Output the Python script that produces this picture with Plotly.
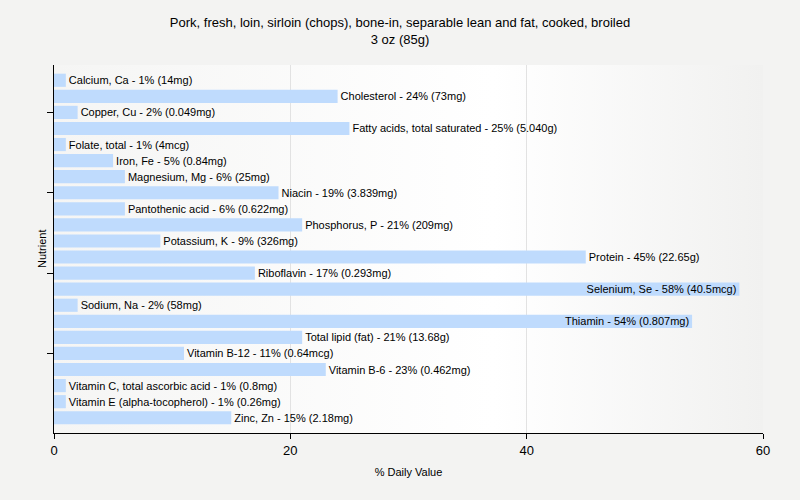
import base64
import plotly.graph_objects as go

nutrients = [
    "Calcium, Ca", "Cholesterol", "Copper, Cu", "Fatty acids, total saturated",
    "Folate, total", "Iron, Fe", "Magnesium, Mg", "Niacin", "Pantothenic acid",
    "Phosphorus, P", "Potassium, K", "Protein", "Riboflavin", "Selenium, Se",
    "Sodium, Na", "Thiamin", "Total lipid (fat)", "Vitamin B-12", "Vitamin B-6",
    "Vitamin C, total ascorbic acid", "Vitamin E (alpha-tocopherol)", "Zinc, Zn",
]
daily_pct = [1, 24, 2, 25, 1, 5, 6, 19, 6, 21, 9, 45, 17, 58, 2, 54, 21, 11, 23, 1, 1, 15]
amounts = [
    "14mg", "73mg", "0.049mg", "5.040g", "4mcg", "0.84mg", "25mg", "3.839mg",
    "0.622mg", "209mg", "326mg", "22.65g", "0.293mg", "40.5mcg", "58mg",
    "0.807mg", "13.68g", "0.64mcg", "0.462mg", "0.8mg", "0.26mg", "2.18mg",
]
inside_labels = ["Selenium, Se", "Thiamin"]
tick_nutrients = ["Copper, Cu", "Niacin", "Riboflavin", "Vitamin B-12"]

labels = [f"{n} - {p}% ({a})" for n, p, a in zip(nutrients, daily_pct, amounts)]
positions = ["inside" if n in inside_labels else "outside" for n in nutrients]

FONT = "Liberation Sans, Arial, sans-serif"

fig = go.Figure(go.Bar(
    x=daily_pct,
    y=nutrients,
    orientation="h",
    width=0.82,
    marker=dict(color="#bfdbfd", line=dict(width=0)),
    text=labels,
    textposition=positions,
    insidetextanchor="end",
    constraintext="none",
    cliponaxis=False,
    textfont=dict(family=FONT, size=11, color="#000000"),
    insidetextfont=dict(family=FONT, size=11, color="#000000"),
    outsidetextfont=dict(family=FONT, size=11, color="#000000"),
    hoverinfo="skip",
))

svg = (
    '<svg xmlns="http://www.w3.org/2000/svg" width="100" height="100" preserveAspectRatio="none">'
    '<defs><linearGradient id="g" x1="0" y1="0" x2="1" y2="0">'
    '<stop offset="0" stop-color="#f5f5f4"/>'
    '<stop offset="0.62" stop-color="#ffffff"/>'
    '<stop offset="1" stop-color="#f1f1f0"/>'
    '</linearGradient></defs>'
    '<rect width="100" height="100" fill="url(#g)"/></svg>'
)
src = "data:image/svg+xml;base64," + base64.b64encode(svg.encode()).decode()

fig.update_layout(
    width=800, height=500,
    margin=dict(l=54, r=37, t=65, b=67, autoexpand=False),
    paper_bgcolor="#f3f3f2",
    plot_bgcolor="rgba(0,0,0,0)",
    font=dict(family=FONT, size=11, color="#000000"),
    title=dict(
        text="Pork, fresh, loin, sirloin (chops), bone-in, separable lean and fat, cooked, broiled<br>3 oz (85g)",
        x=0.5, xanchor="center", y=0.946, yanchor="top",
        font=dict(size=13, family=FONT),
    ),
    showlegend=False,
    images=[dict(
        source=src, xref="paper", yref="paper", x=0, y=1, sizex=1, sizey=1,
        xanchor="left", yanchor="top", sizing="stretch", layer="below",
    )],
    annotations=[dict(
        text="Nutrient", xref="paper", yref="paper", x=-12 / 709, y=0.5,
        xanchor="center", yanchor="middle", textangle=-90, showarrow=False,
        font=dict(size=11, family=FONT, color="#000000"),
    )],
    xaxis=dict(
        range=[0, 60], tickvals=[0, 20, 40, 60],
        showgrid=True, gridcolor="#e2e2e2", gridwidth=1,
        showline=True, linecolor="#000000", linewidth=1,
        ticks="outside", ticklen=5, tickcolor="#000000",
        tickfont=dict(size=13),
        zeroline=False, automargin=False,
        title=dict(text="% Daily Value", font=dict(size=11), standoff=11),
    ),
    yaxis=dict(
        categoryorder="array", categoryarray=nutrients,
        range=[len(nutrients) - 1 + 0.95, -0.95],
        tickvals=tick_nutrients, ticktext=["" for _ in tick_nutrients],
        showgrid=False,
        showline=True, linecolor="#000000", linewidth=1,
        ticks="outside", ticklen=6, tickcolor="#000000",
        zeroline=False, automargin=False,
    ),
)

fig.write_html(
    "out.html",
    config={"displayModeBar": False},
    post_script="document.body.style.margin='0';",
)
